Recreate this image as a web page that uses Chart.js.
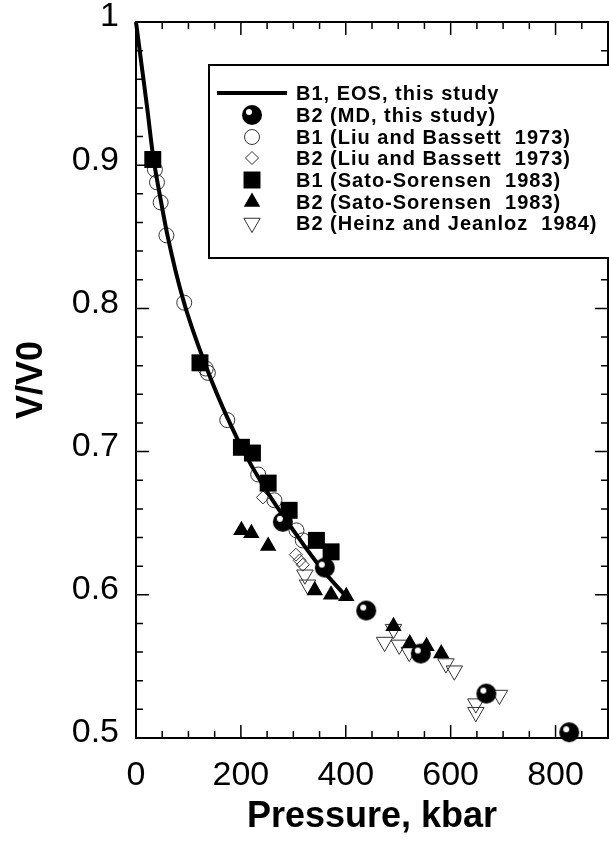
<!DOCTYPE html>
<html>
<head>
<meta charset="utf-8">
<script src="https://cdn.jsdelivr.net/npm/chart.js@4.4.0/dist/chart.umd.min.js"></script>
<style>
    html, body { margin: 0; padding: 0; background: #fff; }
</style>
</head>
<body>
<canvas id="chart" width="609" height="841"></canvas>
<script>
// values (P in kbar, V/V0)
const eosP = [0, 11, 22, 32, 47, 60, 90, 135, 175, 210, 250, 300, 350, 405];
const eosV = [1.0, 0.969, 0.938, 0.908, 0.876, 0.851, 0.806, 0.758, 0.723, 0.697, 0.672, 0.645, 0.620, 0.597];

const mdP = [280, 360, 439, 543, 668, 826];
const mdV = [0.651, 0.619, 0.589, 0.559, 0.531, 0.504];

const liuB1P = [36, 40, 47, 58, 92, 133, 137, 174, 233, 264, 306, 318];
const liuB1V = [0.897, 0.888, 0.874, 0.851, 0.804, 0.758, 0.755, 0.722, 0.684, 0.666, 0.645, 0.638];

const liuB2P = [242, 305, 312, 318];
const liuB2V = [0.668, 0.628, 0.624, 0.621];

const satoB1P = [32, 122, 201, 222, 252, 292, 344, 372];
const satoB1V = [0.904, 0.762, 0.703, 0.699, 0.678, 0.659, 0.638, 0.630];

const satoB2P = [201, 220, 252, 341, 372, 401, 491, 522, 554, 582];
const satoB2V = [0.645, 0.643, 0.634, 0.603, 0.600, 0.599, 0.578, 0.566, 0.564, 0.559];

const heinzP = [322, 327, 474, 491, 502, 521, 591, 607, 648, 648, 693];
const heinzV = [0.614, 0.607, 0.567, 0.576, 0.565, 0.560, 0.552, 0.547, 0.524, 0.518, 0.530];

const xTicks = [0, 200, 400, 600, 800];
const xTickLabels = ['0', '200', '400', '600', '800'];
const yTicks = [0.5, 0.6, 0.7, 0.8, 0.9, 1.0];
const yTickLabels = ['0.5', '0.6', '0.7', '0.8', '0.9', '1'];

const FONT = "'Liberation Sans', Arial, sans-serif";

const pts = (xs, ys) => xs.map((x, i) => ({ x, y: ys[i] }));

// shaded ball marker used for the MD points
function sphere(r) {
    const c = document.createElement('canvas');
    const s = Math.ceil(r * 2) + 2;
    c.width = c.height = s;
    const g = c.getContext('2d');
    g.fillStyle = '#000';
    g.beginPath();
    g.arc(s / 2, s / 2, r, 0, Math.PI * 2);
    g.fill();
    g.fillStyle = '#fff';
    g.beginPath();
    g.arc(s / 2 - r * 0.3, s / 2 - r * 0.3, r * 0.3, 0, Math.PI * 2);
    g.fill();
    return c;
}
const ball = sphere(10);

const framePlugin = {
    id: 'frame',
    afterDraw(chart) {
        const { ctx, chartArea: a, scales: { x, y } } = chart;
        ctx.save();
        ctx.strokeStyle = '#000';
        ctx.lineWidth = 2;
        ctx.strokeRect(a.left, a.top, a.right - a.left, a.bottom - a.top);

        ctx.lineWidth = 1.5;
        ctx.beginPath();
        for (let v = 50; v < 900; v += 50) {
            const px = x.getPixelForValue(v);
            const len = v % 200 === 0 ? 13 : 7;
            ctx.moveTo(px, a.bottom); ctx.lineTo(px, a.bottom - len);
            ctx.moveTo(px, a.top); ctx.lineTo(px, a.top + len);
        }
        for (let i = 1; i < 25; i++) {
            const py = y.getPixelForValue(0.5 + i * 0.02);
            const len = i % 5 === 0 ? 13 : 7;
            ctx.moveTo(a.left, py); ctx.lineTo(a.left + len, py);
            ctx.moveTo(a.right, py); ctx.lineTo(a.right - len, py);
        }
        ctx.stroke();

        // legend box
        const L = 209, T = 65, B = 258;
        ctx.fillStyle = '#fff';
        ctx.fillRect(L, T, 420, B - T);
        ctx.lineWidth = 2;
        ctx.strokeRect(L, T, 420, B - T);

        const rowY = [93, 115, 137, 158, 180, 202, 223];
        ctx.font = 'bold 20px ' + FONT;
        if ('letterSpacing' in ctx) ctx.letterSpacing = '1px';
        ctx.textBaseline = 'middle';
        ctx.textAlign = 'left';
        chart.data.datasets.forEach((ds, i) => {
            const yy = rowY[i];
            if (ds.pointRadius === 0) {
                ctx.lineWidth = 4;
                ctx.beginPath();
                ctx.moveTo(217, yy); ctx.lineTo(287, yy);
                ctx.stroke();
            } else {
                ctx.fillStyle = ds.pointBackgroundColor;
                ctx.strokeStyle = ds.pointBorderColor;
                ctx.lineWidth = ds.pointBorderWidth;
                Chart.helpers.drawPoint(ctx, {
                    pointStyle: ds.pointStyle,
                    radius: ds.pointRadius,
                    rotation: ds.pointRotation || 0,
                    borderWidth: ds.pointBorderWidth
                }, 252, yy);
            }
            ctx.fillStyle = '#000';
            ctx.strokeStyle = '#000';
            ctx.fillText(ds.label, 296, yy + 1);
        });
        ctx.restore();
    }
};

new Chart(document.getElementById('chart'), {
    type: 'scatter',
    data: {
        datasets: [
            {
                label: 'B1, EOS, this study',
                data: pts(eosP, eosV),
                showLine: true,
                borderColor: '#000',
                borderWidth: 4,
                cubicInterpolationMode: 'monotone',
                pointRadius: 0,
                order: 3
            },
            {
                label: 'B2 (MD, this study)',
                data: pts(mdP, mdV),
                pointStyle: ball,
                pointRadius: 10,
                pointBackgroundColor: '#000',
                pointBorderColor: '#000',
                pointBorderWidth: 0,
                order: 0
            },
            {
                label: 'B1 (Liu and Bassett  1973)',
                data: pts(liuB1P, liuB1V),
                pointStyle: 'circle',
                pointRadius: 7.5,
                pointBackgroundColor: 'rgba(0,0,0,0)',
                pointBorderColor: '#333',
                pointBorderWidth: 1,
                order: 4
            },
            {
                label: 'B2 (Liu and Bassett  1973)',
                data: pts(liuB2P, liuB2V),
                pointStyle: 'rectRot',
                pointRadius: 6.5,
                pointBackgroundColor: 'rgba(0,0,0,0)',
                pointBorderColor: '#333',
                pointBorderWidth: 1,
                order: 4
            },
            {
                label: 'B1 (Sato-Sorensen  1983)',
                data: pts(satoB1P, satoB1V),
                pointStyle: 'rect',
                pointRadius: 12,
                pointBackgroundColor: '#000',
                pointBorderColor: '#000',
                pointBorderWidth: 0,
                order: 1
            },
            {
                label: 'B2 (Sato-Sorensen  1983)',
                data: pts(satoB2P, satoB2V),
                pointStyle: 'triangle',
                pointRadius: 9.5,
                pointBackgroundColor: '#000',
                pointBorderColor: '#000',
                pointBorderWidth: 0,
                order: 2
            },
            {
                label: 'B2 (Heinz and Jeanloz  1984)',
                data: pts(heinzP, heinzV),
                pointStyle: 'triangle',
                pointRotation: 180,
                pointRadius: 9.5,
                pointBackgroundColor: 'rgba(0,0,0,0)',
                pointBorderColor: '#333',
                pointBorderWidth: 1,
                order: 2
            }
        ]
    },
    options: {
        responsive: false,
        animation: false,
        clip: false,
        layout: { autoPadding: false, padding: { top: 22, right: 1, left: 0, bottom: 0 } },
        plugins: {
            legend: { display: false },
            tooltip: { enabled: false }
        },
        scales: {
            x: {
                type: 'linear',
                min: 0,
                max: 900,
                afterBuildTicks: s => { s.ticks = xTicks.map(v => ({ value: v })); },
                afterFit: s => { s.height = 103; s.paddingLeft = 0; s.paddingRight = 0; },
                grid: { display: false, drawTicks: false },
                border: { display: false },
                ticks: {
                    autoSkip: false,
                    maxRotation: 0,
                    padding: 17,
                    color: '#000',
                    font: { family: FONT, size: 34 },
                    callback: (v, i) => xTickLabels[i]
                },
                title: {
                    display: true,
                    text: 'Pressure, kbar',
                    color: '#000',
                    font: { family: FONT, size: 36, weight: 'bold' },
                    padding: { top: 0, bottom: 2 }
                }
            },
            y: {
                type: 'linear',
                min: 0.5,
                max: 1.0,
                afterBuildTicks: s => { s.ticks = yTicks.map(v => ({ value: v })); },
                afterFit: s => { s.width = 136; s.paddingTop = 0; s.paddingBottom = 0; },
                grid: { display: false, drawTicks: false },
                border: { display: false },
                ticks: {
                    autoSkip: false,
                    padding: 17,
                    labelOffset: -5,
                    color: '#000',
                    font: { family: FONT, size: 34 },
                    callback: (v, i) => yTickLabels[i]
                },
                title: {
                    display: true,
                    text: 'V/V0',
                    color: '#000',
                    font: { family: FONT, size: 36, weight: 'bold' },
                    padding: { top: 10, bottom: 0 }
                }
            }
        }
    },
    plugins: [framePlugin]
});
</script>
</body>
</html>
